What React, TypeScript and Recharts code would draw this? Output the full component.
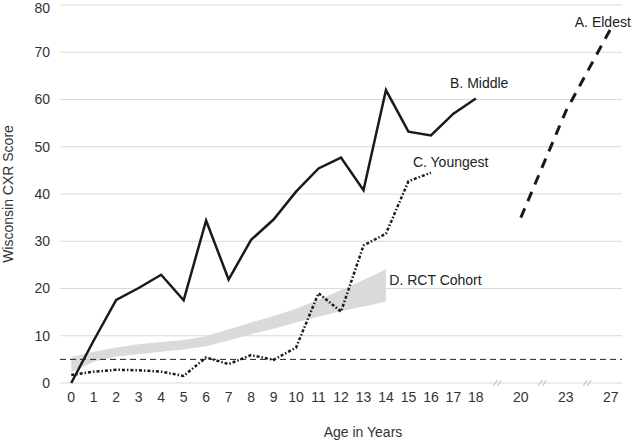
import {
  ComposedChart,
  Line,
  Area,
  XAxis,
  YAxis,
  CartesianGrid,
  ReferenceLine,
  ReferenceDot,
} from 'recharts'

// x positions on a broken axis: 0..18 one slot each, then a gap before 20, 23, 27
const tickPos = [0, 1, 2, 3, 4, 5, 6, 7, 8, 9, 10, 11, 12, 13, 14, 15, 16, 17, 18, 20, 22, 24]
const tickLabels = ['0', '1', '2', '3', '4', '5', '6', '7', '8', '9', '10', '11', '12', '13', '14', '15', '16', '17', '18', '20', '23', '27']
const breakPos = [19, 21, 23]

// B. Middle, ages 0-18
const middle = [0, 9, 17.6, 20.1, 22.9, 17.5, 34.4, 21.9, 30.3, 34.6, 40.5, 45.4, 47.7, 40.8, 62, 53.2, 52.4, 57, 60.2]
// C. Youngest, ages 0-16
const youngest = [1.7, 2.4, 2.8, 2.7, 2.4, 1.5, 5.4, 4.0, 5.9, 4.9, 7.5, 19.0, 15.1, 29.1, 31.6, 42.7, 44.5]
// A. Eldest, ages 20, 23, 27
const eldestPos = [20, 22, 24]
const eldest = [35, 57.5, 75]
// D. RCT cohort band, ages 0-14
const rctLow = [2.3, 4.5, 5.6, 6.1, 6.6, 7.1, 7.8, 9.0, 10.3, 11.5, 12.8, 14.0, 15.2, 16.2, 17.2]
const rctHigh = [5.5, 6.6, 7.5, 8.2, 8.7, 9.1, 9.9, 11.4, 12.8, 14.2, 15.7, 17.6, 19.7, 21.8, 24.1]

const annotations = [
  { text: 'A. Eldest', x: 22.4, y: 75.3 },
  { text: 'B. Middle', x: 16.85, y: 62.4 },
  { text: 'C. Youngest', x: 15.2, y: 45.7 },
  { text: 'D. RCT Cohort', x: 14.15, y: 20.7 },
]

const data = tickPos.map((pos, i) => {
  const row: any = { pos }
  if (i < middle.length) row.middle = middle[i]
  if (i < youngest.length) row.youngest = youngest[i]
  if (i < rctLow.length) row.rct = [rctLow[i], rctHigh[i]]
  const e = eldestPos.indexOf(pos)
  if (e >= 0) row.eldest = eldest[e]
  return row
})

const BreakMark = (props: any) => {
  const { cx, cy } = props
  return (
    <g stroke="#b5b5b5" strokeWidth={1}>
      <line x1={cx - 5} y1={cy + 3} x2={cx - 1} y2={cy - 3} />
      <line x1={cx - 1} y1={cy + 3} x2={cx + 3} y2={cy - 3} />
    </g>
  )
}

const Annotation = (text: string) => (props: any) => (
  <text x={props.cx} y={props.cy} fill="#222" fontSize={14}>
    {text}
  </text>
)

export default function App() {
  return (
    <div
      style={{
        position: 'absolute',
        top: 0,
        left: 0,
        width: 632,
        height: 441,
        fontFamily: '"Liberation Sans", Arial, sans-serif',
      }}
    >
      <ComposedChart
        width={632}
        height={441}
        data={data}
        margin={{ top: 5, right: 10, bottom: 0, left: 0 }}
        style={{ overflow: 'visible' }}
      >
        <CartesianGrid vertical={false} stroke="#dadada" strokeWidth={1.2} />
        <XAxis
          type="number"
          dataKey="pos"
          domain={[-0.5, 24.5]}
          ticks={tickPos}
          interval={0}
          tickFormatter={(v: number) => tickLabels[tickPos.indexOf(v)]}
          axisLine={false}
          tickLine={false}
          tickMargin={3}
          height={58}
          tick={{ fill: '#333', fontSize: 14 }}
          label={{ value: 'Age in Years', position: 'insideBottom', offset: 4, dx: 22, fill: '#333', fontSize: 14 }}
        />
        <YAxis
          domain={[0, 80]}
          ticks={[0, 10, 20, 30, 40, 50, 60, 70, 80]}
          axisLine={false}
          tickLine={false}
          tickMargin={4}
          width={60}
          tick={{ fill: '#333', fontSize: 14 }}
          label={{
            value: 'Wisconsin CXR Score',
            angle: -90,
            position: 'insideLeft',
            offset: 8,
            textAnchor: 'middle',
            fill: '#333',
            fontSize: 14,
          }}
        />
        <Area
          dataKey="rct"
          fill="#dadada"
          fillOpacity={1}
          stroke="none"
          isAnimationActive={false}
        />
        <ReferenceLine y={5} stroke="#222" strokeDasharray="6 4" strokeWidth={1} />
        <Line
          dataKey="youngest"
          stroke="#1a1a1a"
          strokeWidth={2.5}
          strokeDasharray="3 2 1.5 2"
          dot={false}
          isAnimationActive={false}
        />
        <Line
          dataKey="middle"
          stroke="#1a1a1a"
          strokeWidth={2.5}
          dot={false}
          isAnimationActive={false}
        />
        <Line
          dataKey="eldest"
          stroke="#1a1a1a"
          strokeWidth={3}
          strokeDasharray="10 8"
          dot={false}
          connectNulls
          isAnimationActive={false}
        />
        {breakPos.map((p) => (
          <ReferenceDot key={p} x={p} y={0} r={0} ifOverflow="visible" shape={BreakMark} />
        ))}
        {annotations.map((a) => (
          <ReferenceDot key={a.text} x={a.x} y={a.y} r={0} ifOverflow="visible" shape={Annotation(a.text)} />
        ))}
      </ComposedChart>
    </div>
  )
}
